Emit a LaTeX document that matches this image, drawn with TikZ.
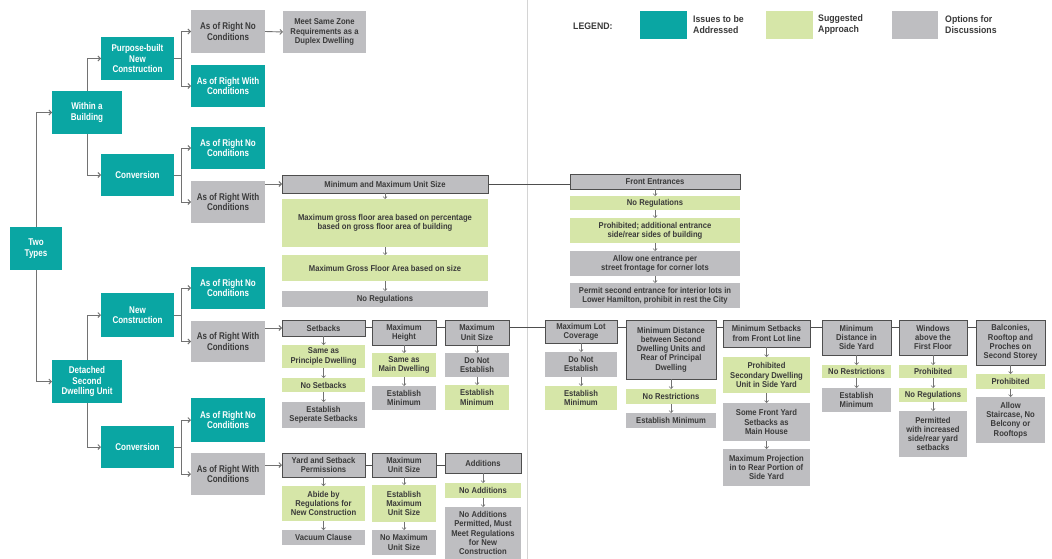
\documentclass[tikz,border=0pt]{standalone}
\usepackage{fontspec}
\setmainfont{Liberation Sans}[FakeStretch=0.92]
\newfontfamily\boxfont{Liberation Sans}[FakeStretch=0.9]
\newfontfamily\tealfont{Liberation Sans}[FakeStretch=0.82]
\usetikzlibrary{arrows.meta,calc}
\definecolor{tealc}{HTML}{0AA6A3}
\definecolor{greenc}{HTML}{D6E6A8}
\definecolor{grayc}{HTML}{BEBEC1}
\definecolor{bordc}{HTML}{4E4E4E}
\definecolor{txtc}{HTML}{3A3A3A}
\definecolor{linec}{HTML}{727272}
\definecolor{sepc}{HTML}{D4D4D4}
\newcommand\mybox[7]{\node[#1, minimum width={(#5-#3)*1pt}, minimum height={(#6-#4)*1pt}] (#2) at ({(#3+#5)/2},{(#4+#6)/2}) {#7};}
\tikzset{
  base/.style={inner sep=0pt, outer sep=0pt, align=center},
  teal/.style={base, fill=tealc, text=white, font=\tealfont\bfseries\fontsize{9.8}{10.5}\selectfont},
  gteal/.style={base, fill=grayc, text=txtc, font=\tealfont\bfseries\fontsize{9.8}{10.5}\selectfont},
  gbox/.style={base, fill=grayc, text=txtc, font=\boxfont\bfseries\fontsize{8.5}{9.2}\selectfont},
  lbox/.style={base, fill=greenc, text=txtc, font=\boxfont\bfseries\fontsize{8.5}{9.2}\selectfont},
  hbox/.style={gbox, draw=bordc, line width=1pt},
  arr/.style={draw=linec, line width=0.9pt, -{Straight Barb[length=2.5pt,width=5pt]}},
  varr/.style={draw=linec, line width=0.7pt, -{Straight Barb[length=2pt,width=4pt]}},
  link/.style={draw=bordc, line width=0.9pt},
  legtxt/.style={inner sep=0pt, align=left, anchor=west, text=txtc, font=\bfseries\fontsize{9.5}{11}\selectfont}
}
\begin{document}
\begin{tikzpicture}[x=1pt,y=-1pt]
\useasboundingbox (0,0) rectangle (1052,559);
\fill[white] (0,0) rectangle (1052,559);
% separator
\draw[sepc, line width=0.9pt] (527,0) -- (527,559);
% legend
\node[legtxt] (leg) at (573,26) {LEGEND:};
\mybox{base, fill=tealc}{lt}{640}{11}{687}{39}{}
\node[legtxt] (ltt) at (693,25) {Issues to be\\Addressed};
\mybox{base, fill=greenc}{lg}{766}{11}{813}{39}{}
\node[legtxt] (lgt) at (818,25) {Suggested\\Approach};
\mybox{base, fill=grayc}{lr}{892}{11}{938}{39}{}
\node[legtxt] (lrt) at (945,25) {Options for\\Discussions};
% teal tree
\mybox{teal}{two}{10}{227}{62}{270}{Two\\Types}
\mybox{teal}{wib}{52}{91}{122}{134}{Within a\\Building}
\mybox{teal}{dsu}{52}{360}{122}{403}{Detached\\Second\\Dwelling Unit}
\mybox{teal}{pb}{101}{37}{174}{80}{Purpose-built\\New\\Construction}
\mybox{teal}{cv1}{101}{154}{174}{196}{Conversion}
\mybox{teal}{nc}{101}{293}{174}{337}{New\\Construction}
\mybox{teal}{cv2}{101}{426}{174}{468}{Conversion}
\mybox{gteal}{arn1}{191}{10}{265}{53}{As of Right No\\Conditions}
\mybox{teal}{arw1}{191}{65}{265}{107}{As of Right With\\Conditions}
\mybox{teal}{arn2}{191}{127}{265}{169}{As of Right No\\Conditions}
\mybox{gteal}{arw2}{191}{181}{265}{223}{As of Right With\\Conditions}
\mybox{teal}{arn3}{191}{267}{265}{309}{As of Right No\\Conditions}
\mybox{gteal}{arw3}{191}{321}{265}{362}{As of Right With\\Conditions}
\mybox{teal}{arn4}{191}{398}{265}{442}{As of Right No\\Conditions}
\mybox{gteal}{arw4}{191}{453}{265}{495}{As of Right With\\Conditions}
\mybox{gbox}{meet}{283}{11}{366}{53}{Meet Same Zone\\Requirements as a\\Duplex Dwelling}
% tree connectors
\draw[arr] (two.north) |- (wib.west);
\draw[arr] (two.south) |- (dsu.west);
\draw[arr] (wib.north) |- (pb.west);
\draw[arr] (wib.south) |- (cv1.west);
\draw[arr] (dsu.north) |- (nc.west);
\draw[arr] (dsu.south) |- (cv2.west);
\foreach \s/\a/\b in {pb/arn1/arw1, cv1/arn2/arw2, nc/arn3/arw3, cv2/arn4/arw4}{
  \draw[arr] (\s.east) -- ++(7,0) |- (\a.west);
  \draw[arr] (\s.east) -- ++(7,0) |- (\b.west);
}
\draw[arr] (arn1.east) -- (meet.west);
% middle: unit size
\mybox{hbox}{minmax}{282}{175}{488}{193}{Minimum and Maximum Unit Size}
\mybox{lbox}{mg1}{282}{199}{488}{247}{Maximum gross floor area based on percentage\\based on gross floor area of building}
\mybox{lbox}{mg2}{282}{255}{488}{281}{Maximum Gross Floor Area based on size}
\mybox{gbox}{mnr}{282}{291}{488}{307}{No Regulations}
\draw[arr] (arw2.east |- minmax.west) -- (minmax.west);
% front entrances
\mybox{hbox}{fe}{570}{174}{740}{189}{Front Entrances}
\mybox{lbox}{fe1}{570}{196}{740}{210}{No Regulations}
\mybox{lbox}{fe2}{570}{218}{740}{243}{Prohibited; additional entrance\\side/rear sides of building}
\mybox{gbox}{fe3}{570}{251}{740}{276}{Allow one entrance per\\street frontage for corner lots}
\mybox{gbox}{fe4}{570}{283}{740}{308}{Permit second entrance for interior lots in\\Lower Hamilton, prohibit in rest the City}
\draw[link] (minmax.east) -- (minmax.east -| fe.west);
% row 1
\mybox{hbox}{sb}{282}{320}{365}{336}{Setbacks}
\mybox{lbox}{sb1}{282}{345}{365}{368}{Same as\\Principle Dwelling}
\mybox{lbox}{sb2}{282}{378}{365}{392}{No Setbacks}
\mybox{gbox}{sb3}{282}{402}{365}{428}{Establish\\Seperate Setbacks}
\mybox{hbox}{mh}{372}{320}{436}{345}{Maximum\\Height}
\mybox{lbox}{mh1}{372}{353}{436}{377}{Same as\\Main Dwelling}
\mybox{gbox}{mh2}{372}{386}{436}{410}{Establish\\Minimum}
\mybox{hbox}{mu}{445}{320}{509}{345}{Maximum\\Unit Size}
\mybox{gbox}{mu1}{445}{353}{509}{377}{Do Not\\Establish}
\mybox{lbox}{mu2}{445}{385}{509}{410}{Establish\\Minimum}
\draw[arr] (arw3.east |- sb.west) -- (sb.west);
% row 2
\mybox{hbox}{ys}{282}{453}{365}{477}{Yard and Setback\\Permissions}
\mybox{lbox}{ys1}{282}{486}{365}{521}{Abide by\\Regulations for\\New Construction}
\mybox{gbox}{ys2}{282}{530}{365}{545}{Vacuum Clause}
\mybox{hbox}{mx}{372}{453}{436}{477}{Maximum\\Unit Size}
\mybox{lbox}{mx1}{372}{485}{436}{522}{Establish\\Maximum\\Unit Size}
\mybox{gbox}{mx2}{372}{530}{436}{555}{No Maximum\\Unit Size}
\mybox{hbox}{ad}{445}{453}{521}{473}{Additions}
\mybox{lbox}{ad1}{445}{483}{521}{498}{No Additions}
\mybox{gbox}{ad2}{445}{507}{521}{559}{No Additions\\Permitted, Must\\Meet Regulations\\for New\\Construction}
\draw[arr] (arw4.east |- ys.west) -- (ys.west);
% right row
\mybox{hbox}{lc}{545}{320}{617}{343}{Maximum Lot\\Coverage}
\mybox{gbox}{lc1}{545}{352}{617}{377}{Do Not\\Establish}
\mybox{lbox}{lc2}{545}{386}{617}{410}{Establish\\Minimum}
\mybox{hbox}{md}{626}{320}{716}{379}{Minimum Distance\\between Second\\Dwelling Units and\\Rear of Principal\\Dwelling}
\mybox{lbox}{md1}{626}{389}{716}{404}{No Restrictions}
\mybox{gbox}{md2}{626}{413}{716}{428}{Establish Minimum}
\mybox{hbox}{ms}{723}{320}{810}{347}{Minimum Setbacks\\from Front Lot line}
\mybox{lbox}{ms1}{723}{357}{810}{393}{Prohibited\\Secondary Dwelling\\Unit in Side Yard}
\mybox{gbox}{ms2}{723}{403}{810}{441}{Some Front Yard\\Setbacks as\\Main House}
\mybox{gbox}{ms3}{723}{449}{810}{486}{Maximum Projection\\in to Rear Portion of\\Side Yard}
\mybox{hbox}{sy}{822}{320}{891}{355}{Minimum\\Distance in\\Side Yard}
\mybox{lbox}{sy1}{822}{365}{891}{378}{No Restrictions}
\mybox{gbox}{sy2}{822}{388}{891}{412}{Establish\\Minimum}
\mybox{hbox}{wf}{899}{320}{967}{355}{Windows\\above the\\First Floor}
\mybox{lbox}{wf1}{899}{365}{967}{378}{Prohibited}
\mybox{lbox}{wf2}{899}{388}{967}{402}{No Regulations}
\mybox{gbox}{wf3}{899}{411}{967}{457}{Permitted\\with increased\\side/rear yard\\setbacks}
\mybox{hbox}{bc}{976}{320}{1045}{365}{Balconies,\\Rooftop and\\Proches on\\Second Storey}
\mybox{lbox}{bc1}{976}{374}{1045}{389}{Prohibited}
\mybox{gbox}{bc2}{976}{397}{1045}{443}{Allow\\Staircase, No\\Belcony or\\Rooftops}
% header links
\foreach \a/\b in {sb/mh, mh/mu, mu/lc, lc/md, md/ms, ms/sy, sy/wf, wf/bc}{
  \draw[link] ($(\a.north east)+(0,7)$) -- ($(\b.north west)+(0,7)$);
}
\foreach \a/\b in {ys/mx, mx/ad}{
  \draw[link] ($(\a.north east)+(0,12)$) -- ($(\b.north west)+(0,12)$);
}
% vertical arrows
\foreach \a/\b in {minmax/mg1, mg1/mg2, mg2/mnr, fe/fe1, fe1/fe2, fe2/fe3, fe3/fe4,
  sb/sb1, sb1/sb2, sb2/sb3, mh/mh1, mh1/mh2, mu/mu1, mu1/mu2,
  ys/ys1, ys1/ys2, mx/mx1, mx1/mx2, ad/ad1, ad1/ad2,
  lc/lc1, lc1/lc2, md/md1, md1/md2, ms/ms1, ms1/ms2, ms2/ms3,
  sy/sy1, sy1/sy2, wf/wf1, wf1/wf2, wf2/wf3, bc/bc1, bc1/bc2}{
  \draw[varr] (\a.south) -- (\b.north);
}
\end{tikzpicture}
\end{document}
